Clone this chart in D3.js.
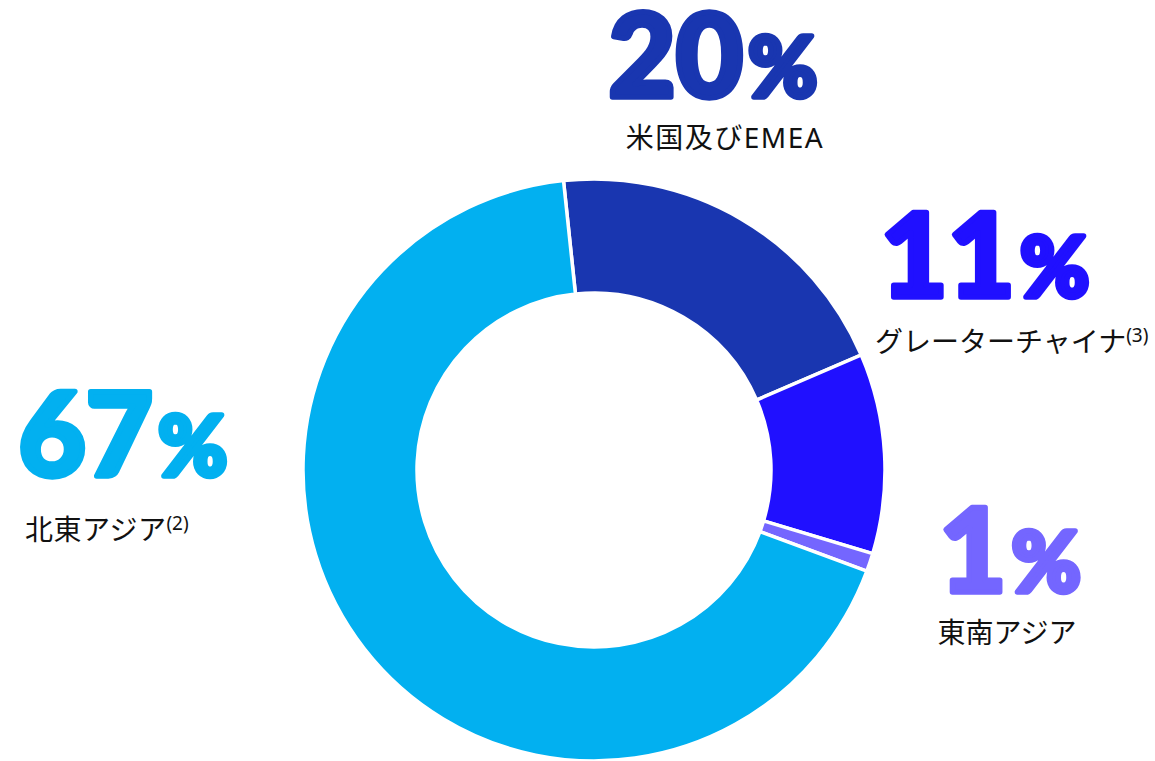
<!DOCTYPE html>
<html>
<head>
<meta charset="utf-8">
<script src="https://cdn.jsdelivr.net/npm/d3@7"></script>
<style>
  body { margin: 0; background: #fff; }
  svg { display: block; }
</style>
</head>
<body>
<div id="chart"></div>
<script>
// Regional share (clockwise from just left of top)
const regions = ["米国及びEMEA", "グレーターチャイナ", "東南アジア", "北東アジア"];
const shares = [20, 11, 1, 67];
const notes = ["", "(3)", "", "(2)"];
const colors = ["#1936b0", "#2010ff", "#7466ff", "#02b0f0"];

const width = 1155, height = 761;
const cx = 594, cy = 470;
const outerR = 291, innerR = 177;

const svg = d3.select("#chart")
    .append("svg")
    .attr("width", width)
    .attr("height", height)
    .attr("viewBox", [0, 0, width, height]);

const data = regions.map((r, i) => ({ region: r, share: shares[i], note: notes[i], color: colors[i] }));

const pie = d3.pie()
    .sort(null)
    .value(d => d.share)
    .startAngle(-0.105)
    .endAngle(-0.105 + 2 * Math.PI);

const arc = d3.arc()
    .innerRadius(innerR)
    .outerRadius(outerR);

svg.append("g")
    .attr("transform", `translate(${cx},${cy})`)
    .selectAll("path")
    .data(pie(data))
    .join("path")
    .attr("d", arc)
    .attr("fill", d => d.data.color)
    .attr("stroke", "#fff")
    .attr("stroke-width", 3.5);

// label placement: big number x/baseline, caption x/baseline
const labelPos = [
    { x: 713, y: 97, lx: 725, ly: 148, anchor: "middle", ls: 1.5 },
    { x: 985, y: 297, lx: 875, ly: 352, anchor: "start", ls: 0 },
    { x: 1010, y: 592, lx: 1007, ly: 643, anchor: "middle", ls: 0 },
    { x: 123, y: 476, lx: 25, ly: 540, anchor: "start", ls: 0.5 }
];

const lab = svg.append("g")
    .selectAll("g")
    .data(data)
    .join("g");

lab.append("text")
    .attr("x", (d, i) => labelPos[i].x)
    .attr("y", (d, i) => labelPos[i].y)
    .attr("text-anchor", "middle")
    .attr("fill", d => d.color)
    .attr("stroke", d => d.color)
    .attr("stroke-width", 5.5)
    .attr("stroke-linejoin", "round")
    .style("font-family", "Lato, 'DejaVu Sans', sans-serif")
    .style("font-weight", 900)
    .style("font-size", "116px")
    .style("letter-spacing", "0px")
    .each(function(d) {
        const t = d3.select(this);
        t.append("tspan").text(d.share);
        t.append("tspan").text("%").style("font-size", "84px").attr("dx", 5);
    });

lab.append("text")
    .attr("x", (d, i) => labelPos[i].lx)
    .attr("y", (d, i) => labelPos[i].ly)
    .attr("text-anchor", (d, i) => labelPos[i].anchor)
    .attr("fill", "#111")
    .style("font-family", "'Noto Sans', 'Noto Sans CJK JP', sans-serif")
    .style("font-size", "28px")
    .style("letter-spacing", (d, i) => labelPos[i].ls + "px")
    .each(function(d) {
        const t = d3.select(this);
        t.append("tspan").text(d.region);
        if (d.note) {
            t.append("tspan").text(d.note)
                .style("font-size", "19px")
                .style("letter-spacing", "0px")
                .attr("dy", -10);
        }
    });
</script>
</body>
</html>
